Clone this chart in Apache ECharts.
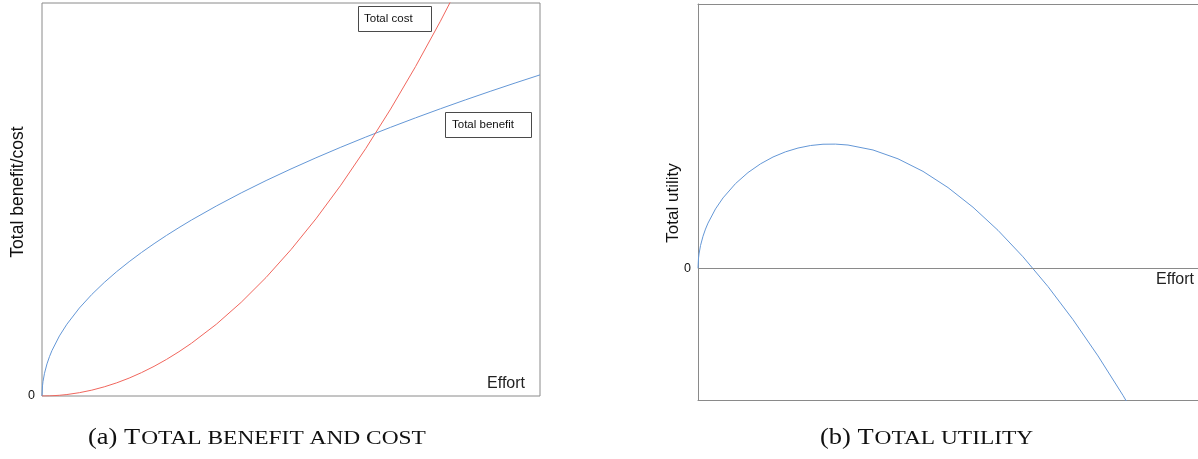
<!DOCTYPE html>
<html>
<head>
<meta charset="utf-8">
<script src="https://cdn.jsdelivr.net/npm/echarts@6/dist/echarts.min.js"></script>
<style>
html,body{margin:0;padding:0;background:#fff;}
#chart{width:1198px;height:459px;}
</style>
</head>
<body>
<div id="chart"></div>
<script>
// ---- data ----
const effort  = [0,0.01,0.02,0.05,0.1,0.15,0.2,0.35,0.5,0.75,1,1.25,1.5,1.75,2,2.25,2.5,2.75,3,3.5,4,4.5,5,5.5,6,6.5,7,7.5,8,8.5,9,9.5,10];
const benefit = [0,0.258,0.365,0.578,0.817,1.001,1.156,1.529,1.827,2.238,2.584,2.889,3.165,3.418,3.654,3.876,4.086,4.285,4.476,4.834,5.168,5.482,5.778,6.060,6.330,6.588,6.837,7.077,7.309,7.534,7.752,7.964,8.171];
const cost    = [0,0,0.0001,0.0004,0.0015,0.003,0.006,0.018,0.037,0.084,0.149,0.233,0.335,0.456,0.596,0.754,0.931,1.127,1.341,1.825,2.384,3.017,3.725,4.507,5.364,6.295,7.301,8.381,9.536,10.765,12.069,13.447,14.9];
const utility = [0,0.258,0.365,0.578,0.816,0.998,1.150,1.511,1.790,2.154,2.435,2.656,2.830,2.962,3.058,3.122,3.155,3.158,3.135,3.009,2.784,2.465,2.053,1.553,0.966,0.293,-0.464,-1.304,-2.227,-3.231,-4.317,-5.483,-6.729];
const zeroLabel = '0';
const seriesNames = ['Total benefit','Total cost','Total utility'];
const axisTitles = ['Total benefit/cost','Total utility','Effort'];
const captionA = ['(a) T','OTAL BENEFIT AND COST'];
const captionB = ['(b) T','OTAL UTILITY'];

const pairs = (xs, ys) => xs.map((x, i) => [x, ys[i]]);

const SANS = '"Liberation Sans", Arial, Helvetica, sans-serif';
const SERIF = '"Liberation Serif", "Times New Roman", serif';
const FRAME = '#8a8a8a';
const BLUE = '#6497d6';
const RED = '#f0665d';

// measure caption pieces
const mctx = document.createElement('canvas').getContext('2d');
function tw(txt, size, fam){ mctx.font = size + 'px ' + fam; return mctx.measureText(txt).width; }
const BIG = 23, SMALL = 18, BIGSX = 1.15, SMALLSX = 1.3;
function caption(parts, x0, y){
  const wBig = tw(parts[0], BIG, SERIF) * BIGSX;
  return [
    {type:'text', x:x0, y:y, scaleX:BIGSX, z:100,
      style:{text:parts[0], x:0, y:0, fontSize:BIG, fontFamily:SERIF, fill:'#111', align:'left', verticalAlign:'middle'}},
    {type:'text', x:x0 + wBig + 1, y:y + 0.305*(BIG-SMALL), scaleX:SMALLSX, z:100,
      style:{text:parts[1], x:0, y:0, fontSize:SMALL, fontFamily:SERIF, fill:'#111', align:'left', verticalAlign:'middle'}}
  ];
}

const chart = echarts.init(document.getElementById('chart'), null, {renderer:'canvas'});
const noAxisBits = {axisTick:{show:false}, splitLine:{show:false}};

chart.setOption({
  animation:false,
  backgroundColor:'#fff',
  grid:[
    {left:42, top:3, width:498, height:393, show:true, borderColor:FRAME, borderWidth:1, backgroundColor:'transparent'},
    {left:698, top:4, width:500, height:396.5, show:false}
  ],
  xAxis:[
    Object.assign({gridIndex:0, type:'value', min:0, max:10, axisLine:{show:false}, axisLabel:{show:false}}, noAxisBits),
    Object.assign({gridIndex:1, type:'value', min:0, max:10, position:'bottom',
      axisLine:{show:true, onZero:false, lineStyle:{color:FRAME, width:1}}, axisLabel:{show:false}}, noAxisBits),
    Object.assign({gridIndex:1, type:'value', min:0, max:10, position:'top',
      axisLine:{show:true, onZero:false, lineStyle:{color:FRAME, width:1}}, axisLabel:{show:false}}, noAxisBits)
  ],
  yAxis:[
    Object.assign({gridIndex:0, type:'value', min:0, max:10, interval:10, axisLine:{show:false},
      axisLabel:{show:true, margin:7, fontSize:12.5, fontFamily:SANS, color:'#111',
        formatter:v => Math.abs(v) < 1e-9 ? zeroLabel : ''}}, noAxisBits),
    Object.assign({gridIndex:1, type:'value', min:-3.36, max:6.72, interval:3.36,
      axisLine:{show:true, onZero:false, lineStyle:{color:FRAME, width:1}},
      axisLabel:{show:true, margin:7, fontSize:12.5, fontFamily:SANS, color:'#111',
        formatter:v => Math.abs(v) < 1e-6 ? zeroLabel : ''}}, noAxisBits)
  ],
  series:[
    {name:seriesNames[0], type:'line', xAxisIndex:0, yAxisIndex:0, data:pairs(effort, benefit),
      showSymbol:false, smooth:false, clip:true, lineStyle:{color:BLUE, width:1}, z:3},
    {name:seriesNames[1], type:'line', xAxisIndex:0, yAxisIndex:0, data:pairs(effort, cost),
      showSymbol:false, smooth:false, clip:true, lineStyle:{color:RED, width:1}, z:4},
    {name:seriesNames[2], type:'line', xAxisIndex:1, yAxisIndex:1, data:pairs(effort, utility),
      showSymbol:false, smooth:false, clip:true, lineStyle:{color:BLUE, width:1}, z:3,
      markLine:{silent:true, symbol:['none','none'], label:{show:false},
        lineStyle:{color:FRAME, type:'solid', width:1}, data:[{yAxis:0}]}}
  ],
  graphic:[
    {type:'rect', z:100, shape:{x:358.5, y:6.5, width:73, height:25}, style:{fill:'#fff', stroke:'#4a4a4a', lineWidth:1}},
    {type:'text', z:101, style:{text:seriesNames[1], x:364, y:18.5, fontSize:11.5, fontFamily:SANS, fill:'#111', align:'left', verticalAlign:'middle'}},
    {type:'rect', z:100, shape:{x:445.5, y:112.5, width:86, height:25}, style:{fill:'#fff', stroke:'#4a4a4a', lineWidth:1}},
    {type:'text', z:101, style:{text:seriesNames[0], x:452, y:124.5, fontSize:11.5, fontFamily:SANS, fill:'#111', align:'left', verticalAlign:'middle'}},
    {type:'text', z:101, style:{text:axisTitles[2], x:525, y:384, fontSize:16, fontFamily:SANS, fill:'#222', align:'right', verticalAlign:'middle'}},
    {type:'text', z:101, style:{text:axisTitles[2], x:1194, y:280, fontSize:16, fontFamily:SANS, fill:'#222', align:'right', verticalAlign:'middle'}},
    {type:'text', z:101, x:18, y:192, rotation:Math.PI/2,
      style:{text:axisTitles[0], x:0, y:0, fontSize:17.5, fontFamily:SANS, fill:'#111', align:'center', verticalAlign:'middle'}},
    {type:'text', z:101, x:673, y:203, rotation:Math.PI/2,
      style:{text:axisTitles[1], x:0, y:0, fontSize:17, fontFamily:SANS, fill:'#111', align:'center', verticalAlign:'middle'}}
  ].concat(caption(captionA, 88, 438)).concat(caption(captionB, 820, 438))
});
</script>
</body>
</html>
